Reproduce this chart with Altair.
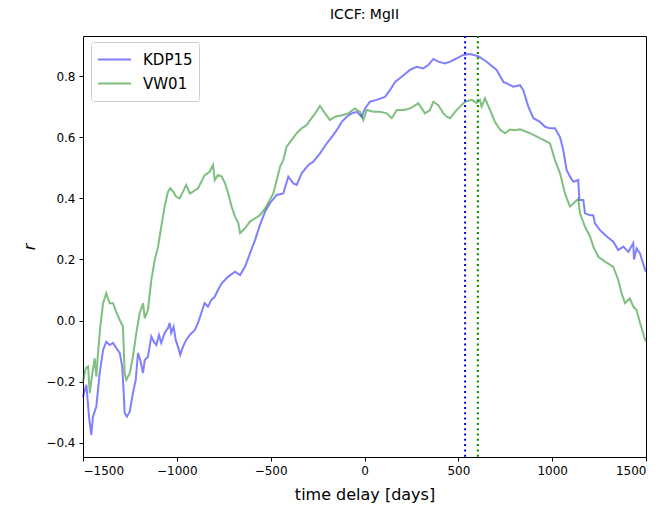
import altair as alt
import pandas as pd

# KDP15 cross-correlation (time delay in days, r)
kdp_t = [-1500, -1482, -1468, -1456, -1447, -1429, -1411, -1393, -1376, -1358, -1340, -1323,
         -1304, -1291, -1283, -1278, -1266, -1251, -1234, -1219, -1207, -1195, -1180, -1171,
         -1154, -1145, -1136, -1123, -1109, -1095, -1083, -1065, -1047, -1038, -1030, -1017,
         -1006, -994, -982, -967, -950, -931, -905, -887, -870, -852, -834, -816, -798, -781,
         -761, -726, -690, -663, -637, -610, -583, -557, -530, -504, -468, -433, -406, -379,
         -361, -335, -299, -273, -237, -201, -175, -148, -121, -95, -68, -42, -15, 3, 29, 65,
         109, 136, 163, 198, 242, 278, 313, 340, 367, 393, 429, 456, 491, 526, 562, 606, 651,
         704, 740, 758, 793, 829, 846, 873, 900, 935, 962, 988, 1015, 1042, 1059, 1077, 1095,
         1113, 1139, 1145, 1166, 1175, 1202, 1219, 1228, 1255, 1291, 1326, 1352, 1379, 1406,
         1432, 1436, 1450, 1468, 1495, 1500]
kdp_r = [-0.25, -0.21, -0.314, -0.374, -0.314, -0.281, -0.171, -0.096, -0.069, -0.08, -0.073,
         -0.089, -0.106, -0.15, -0.237, -0.302, -0.314, -0.298, -0.237, -0.194, -0.106, -0.129,
         -0.171, -0.129, -0.118, -0.085, -0.052, -0.069, -0.08, -0.047, -0.073, -0.04, -0.024,
         -0.007, -0.04, -0.02, -0.063, -0.085, -0.112, -0.085, -0.063, -0.047, -0.031, -0.007,
         0.024, 0.057, 0.046, 0.068, 0.078, 0.10, 0.122, 0.144, 0.16, 0.149, 0.176, 0.22, 0.264,
         0.313, 0.356, 0.384, 0.411, 0.416, 0.471, 0.449, 0.444, 0.482, 0.509, 0.52, 0.547, 0.58,
         0.60, 0.623, 0.65, 0.667, 0.678, 0.683, 0.667, 0.694, 0.716, 0.722, 0.732, 0.754, 0.781,
         0.798, 0.82, 0.83, 0.825, 0.836, 0.856, 0.847, 0.841, 0.847, 0.858, 0.869, 0.872, 0.865,
         0.847, 0.82, 0.781, 0.776, 0.765, 0.77, 0.754, 0.70, 0.662, 0.65, 0.634, 0.629, 0.629,
         0.60, 0.558, 0.493, 0.471, 0.454, 0.46, 0.395, 0.395, 0.351, 0.345, 0.345, 0.318, 0.296,
         0.275, 0.258, 0.231, 0.242, 0.225, 0.253, 0.20, 0.236, 0.22, 0.166, 0.16]

# VW01 cross-correlation
vw_t = [-1500, -1486, -1473, -1464, -1450, -1438, -1429, -1420, -1408, -1393, -1376, -1358,
        -1340, -1323, -1304, -1287, -1278, -1269, -1251, -1234, -1216, -1198, -1180, -1171,
        -1154, -1136, -1118, -1100, -1083, -1065, -1047, -1035, -1020, -1003, -985, -967, -950,
        -931, -914, -887, -870, -852, -825, -807, -798, -781, -761, -743, -726, -708, -690,
        -672, -663, -637, -610, -583, -557, -530, -504, -486, -468, -450, -433, -415, -388,
        -361, -335, -308, -290, -263, -237, -210, -184, -157, -121, -86, -51, -24, -6, 12, 47,
        83, 118, 145, 172, 207, 233, 260, 287, 322, 349, 367, 393, 420, 438, 456, 482, 509, 536,
        571, 598, 615, 624, 642, 669, 695, 722, 749, 775, 802, 829, 882, 953, 988, 1015, 1042,
        1068, 1095, 1122, 1139, 1148, 1175, 1202, 1219, 1246, 1282, 1326, 1352, 1370, 1388,
        1414, 1432, 1450, 1468, 1495, 1500]
vw_r = [-0.20, -0.156, -0.15, -0.237, -0.172, -0.123, -0.183, -0.107, -0.02, 0.057, 0.09, 0.057,
        0.057, 0.029, 0.002, -0.02, -0.172, -0.194, -0.172, -0.118, -0.041, 0.024, 0.057, 0.008,
        0.035, 0.133, 0.198, 0.242, 0.307, 0.373, 0.422, 0.433, 0.422, 0.405, 0.40, 0.422, 0.444,
        0.416, 0.422, 0.433, 0.454, 0.476, 0.487, 0.509, 0.46, 0.476, 0.471, 0.449, 0.416, 0.373,
        0.34, 0.318, 0.286, 0.302, 0.324, 0.335, 0.345, 0.367, 0.395, 0.416, 0.46, 0.503, 0.525,
        0.569, 0.591, 0.613, 0.629, 0.64, 0.656, 0.678, 0.702, 0.678, 0.656, 0.667, 0.672, 0.678,
        0.694, 0.683, 0.656, 0.689, 0.683, 0.683, 0.678, 0.662, 0.689, 0.689, 0.692, 0.70, 0.711,
        0.678, 0.689, 0.716, 0.705, 0.678, 0.667, 0.662, 0.683, 0.70, 0.716, 0.722, 0.712, 0.722,
        0.70, 0.727, 0.689, 0.65, 0.625, 0.613, 0.625, 0.623, 0.626, 0.613, 0.591, 0.58, 0.525,
        0.482, 0.416, 0.373, 0.389, 0.398, 0.351, 0.307, 0.275, 0.242, 0.209, 0.193, 0.176, 0.133,
        0.09, 0.057, 0.073, 0.046, 0.035, -0.007, -0.063, -0.067]

series_names = ["KDP15", "VW01"]
series_colors = ["blue", "green"]
peak_lags = [536, 604]

x_ticks = [-1500, -1000, -500, 0, 500, 1000, 1500]
y_ticks = [-0.4, -0.2, 0.0, 0.2, 0.4, 0.6, 0.8]

df = pd.concat([
    pd.DataFrame({"t": kdp_t, "r": kdp_r, "series": series_names[0]}),
    pd.DataFrame({"t": vw_t, "r": vw_r, "series": series_names[1]}),
])
lags = pd.DataFrame({"lag": peak_lags, "series": series_names})

xscale = alt.Scale(domain=[-1500, 1500], nice=False, zero=False)
yscale = alt.Scale(domain=[-0.446, 0.931], nice=False, zero=False)
cscale = alt.Scale(domain=series_names, range=series_colors)

lines = alt.Chart(df).mark_line(strokeWidth=2, opacity=0.5).encode(
    x=alt.X("t:Q", scale=xscale,
            axis=alt.Axis(values=x_ticks, format="d", title="time delay [days]")),
    y=alt.Y("r:Q", scale=yscale,
            axis=alt.Axis(values=y_ticks, format=".1f", title="r",
                          titleFontStyle="italic", titlePadding=8)),
    color=alt.Color("series:N", scale=cscale,
                    legend=alt.Legend(title=None, orient="none", legendX=8, legendY=6,
                                      symbolType="stroke", symbolStrokeWidth=2,
                                      symbolSize=1089, symbolOpacity=0.5,
                                      labelFontSize=15, labelFont="DejaVu Sans",
                                      labelColor="black", clipHeight=23,
                                      padding=6, rowPadding=1, labelOffset=11,
                                      strokeColor="#cccccc", fillColor="white",
                                      cornerRadius=3)),
    order=alt.Order("t:Q"),
)

rules = alt.Chart(lags).mark_rule(strokeWidth=2, strokeDash=[2, 3.3]).encode(
    x=alt.X("lag:Q", scale=xscale),
    color=alt.Color("series:N", scale=alt.Scale(domain=series_names, range=series_colors),
                    legend=None),
)

chart = (lines + rules).properties(
    width=563, height=421,
    background="white",
    title=alt.TitleParams("ICCF: MgII", anchor="middle", frame="group",
                          fontSize=14, font="DejaVu Sans", fontWeight="normal",
                          color="black", offset=13),
    autosize=alt.AutoSizeParams(type="none"),
    padding={"left": 83, "top": 36, "right": 21, "bottom": 49},
).configure_view(
    stroke="black", strokeWidth=1
).configure_axis(
    grid=False, domain=False, labelFont="DejaVu Sans", labelFontSize=12,
    labelColor="black", tickColor="black", tickSize=4, tickWidth=1, labelPadding=4,
    titleFont="DejaVu Sans", titleFontSize=16, titleFontWeight="normal",
    titleColor="black"
).configure_axisX(titlePadding=10)

chart.save("out.html", embed_options={"renderer": "svg", "actions": False})
